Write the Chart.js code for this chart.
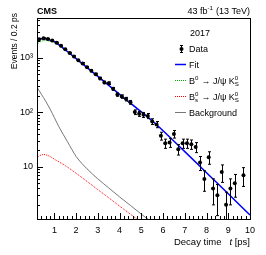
<!DOCTYPE html>
<html>
<head>
<meta charset="utf-8">
<script src="https://cdn.jsdelivr.net/npm/chart.js@4"></script>
<style>
  html, body { margin: 0; padding: 0; background: #fff; }
  #wrap { width: 266px; height: 255px; }
</style>
</head>
<body>
<div id="wrap"><canvas id="decay"></canvas></div>
<script>
// measured decay time bins (0.2 ps wide), bin centres in ps
const binCenters = [0.3, 0.5, 0.7, 0.9, 1.1, 1.3, 1.5, 1.7, 1.9, 2.1, 2.3, 2.5, 2.7, 2.9, 3.1, 3.3, 3.5,
  3.7, 3.9, 4.1, 4.3, 4.5, 4.7, 4.9, 5.1, 5.3, 5.5, 5.7, 5.9, 6.1, 6.3, 6.5, 6.7, 6.9, 7.1, 7.3, 7.5,
  7.7, 7.9, 8.1, 8.3, 8.5, 8.7, 8.9, 9.1, 9.3, 9.5, 9.7, 9.9];
const events = [2210, 2290, 2230, 2080, 1900, 1670, 1440, 1230, 1060, 905, 790, 670, 580, 500, 420, 355, 343,
  270, 212, 195, 175, 153, 101, 94, 90, 86, 68, 60, 37, 27, 28, 40, 21, 27, 27, 26, 23,
  12, 6, 15, 4, 3, 8, 2, 4, 5, null, 7, null];

// fit curves
const fitTime = [0.2, 0.3, 0.4, 0.5, 0.6, 0.8, 1.0, 1.5, 2, 3, 4, 5, 5.5, 6, 7, 8, 9, 10];
const fitValues = [2030, 2180, 2250, 2260, 2230, 2120, 1990, 1410, 970, 458, 214, 102, 70, 46, 19, 7.8, 3.2, 1.3];
const b0Values = [1740, 1910, 2015, 2070, 2075, 2010, 1900, 1370, 950, 450, 211, 101, 69, 45.5, 18.8, 7.7, 3.2, 1.3];

const bsTime = [0.2, 0.3, 0.4, 0.5, 0.6, 0.8, 1.0, 1.5, 2, 2.5, 3, 3.5, 4, 4.5, 5];
const bsValues = [14.5, 15.8, 16.5, 16.8, 16.6, 15.5, 13.8, 10.5, 7.6, 5.4, 3.8, 2.7, 1.9, 1.35, 0.95];

const bkgTime = [0.2, 0.4, 0.6, 0.8, 1.0, 1.2, 1.6, 2.0, 2.5, 3.0, 3.5, 4.0, 4.5, 5.0, 5.5];
const bkgValues = [290, 215, 160, 115, 80, 55, 29, 15.5, 9.2, 6.0, 4.1, 2.8, 1.95, 1.35, 0.95];

const xTicks = [1, 2, 3, 4, 5, 6, 7, 8, 9, 10];
const yTicks = [10, 100, 1000];
const yTickLabels = { 10: "10", 100: "10\u00b2", 1000: "10\u00b3" };

const FONT = "'Liberation Sans', Arial, Helvetica, sans-serif";

const pairs = (xs, ys) => xs.map((x, i) => ({ x: x, y: ys[i] }));

// little helper for B^0_s style text
function drawParts(ctx, x, y, parts, size) {
  for (const p of parts) {
    if (typeof p === "string") {
      ctx.font = size + "px " + FONT;
      ctx.fillText(p, x, y);
      x += ctx.measureText(p).width;
    } else {
      const s = size * 0.68;
      ctx.font = s + "px " + FONT;
      let w = 0;
      if (p.sup) { ctx.fillText(p.sup, x, y - size * 0.42); w = ctx.measureText(p.sup).width; }
      if (p.sub) { ctx.fillText(p.sub, x, y + size * 0.3); w = Math.max(w, ctx.measureText(p.sub).width); }
      x += w + 0.5;
    }
  }
  return x;
}

const decor = {
  id: "decor",
  afterDatasetsDraw(chart) {
    const { ctx, chartArea: a, scales: { x, y } } = chart;
    // error bars
    ctx.save();
    ctx.beginPath();
    ctx.rect(a.left, a.top, a.right - a.left, a.bottom - a.top);
    ctx.clip();
    ctx.strokeStyle = "#000";
    ctx.lineWidth = 1;
    binCenters.forEach((t, i) => {
      const n = events[i];
      if (n == null) return;
      const err = Math.sqrt(n);
      const px = Math.round(x.getPixelForValue(t)) + 0.5;
      const lo = n - err > 0 ? y.getPixelForValue(n - err) : a.bottom + 5;
      const hi = y.getPixelForValue(n + err);
      ctx.beginPath();
      ctx.moveTo(px, lo); ctx.lineTo(px, hi);
      ctx.moveTo(px - 1.5, lo); ctx.lineTo(px + 1.5, lo);
      ctx.moveTo(px - 1.5, hi); ctx.lineTo(px + 1.5, hi);
      ctx.stroke();
    });
    ctx.restore();
  },
  afterDraw(chart) {
    const { ctx, chartArea: a, scales: { x, y } } = chart;
    ctx.save();
    ctx.strokeStyle = "#000";
    ctx.lineWidth = 1;
    // frame
    ctx.strokeRect(Math.round(a.left) + 0.5, Math.round(a.top) + 0.5,
      Math.round(a.right - a.left), Math.round(a.bottom - a.top));
    // ticks on x
    ctx.beginPath();
    for (let k = 1; k <= 50; k++) {
      const t = 0.2 * k;
      if (t > 10.001) continue;
      const major = Math.abs(t - Math.round(t)) < 0.01;
      const px = Math.round(x.getPixelForValue(t)) + 0.5;
      ctx.moveTo(px, a.bottom);
      ctx.lineTo(px, a.bottom - (major ? 6 : 3));
    }
    // ticks on y (log)
    for (const d of [1, 10, 100, 1000]) {
      for (let k = 1; k <= 9; k++) {
        const v = k * d;
        if (v < y.min || v > y.max) continue;
        const py = Math.round(y.getPixelForValue(v)) + 0.5;
        ctx.moveTo(a.left, py);
        ctx.lineTo(a.left + (k === 1 ? 6 : 3), py);
      }
    }
    ctx.stroke();

    ctx.fillStyle = "#000";
    ctx.textBaseline = "alphabetic";
    ctx.textAlign = "left";
    // header texts
    ctx.font = "bold 9px " + FONT;
    ctx.fillText("CMS", a.left, 14);
    ctx.font = "9px " + FONT;
    const w1 = ctx.measureText("43 fb").width;
    const w3 = ctx.measureText(" (13 TeV)").width;
    ctx.font = (9 * 0.68) + "px " + FONT;
    const w2 = ctx.measureText("-1").width + 0.5;
    drawParts(ctx, a.right - (w1 + w2 + w3), 14, ["43 fb", { sup: "-1" }, " (13 TeV)"], 9);

    // x axis title
    ctx.font = "9.5px " + FONT;
    const wa = ctx.measureText("Decay time   ").width;
    const wc = ctx.measureText(" [ps]").width;
    ctx.font = "italic 9.5px " + FONT;
    const wb = ctx.measureText("t").width;
    const tx = a.right - (wa + wb + wc);
    ctx.font = "9.5px " + FONT;
    ctx.fillText("Decay time   ", tx, 245);
    ctx.font = "italic 9.5px " + FONT;
    ctx.fillText("t", tx + wa, 245);
    ctx.font = "9.5px " + FONT;
    ctx.fillText(" [ps]", tx + wa + wb, 245);

    // y axis title
    ctx.save();
    ctx.translate(17, 13);
    ctx.rotate(-Math.PI / 2);
    ctx.textAlign = "right";
    ctx.font = "8.5px " + FONT;
    ctx.fillText("Events / 0.2 ps", 0, 0);
    ctx.restore();

    // legend
    const lx = 189, sx0 = 175, sx1 = 186;
    ctx.textAlign = "left";
    ctx.font = "9px " + FONT;
    ctx.fillText("2017", lx + 1, 36);
    // data
    ctx.beginPath();
    ctx.moveTo(181.5, 45); ctx.lineTo(181.5, 53);
    ctx.moveTo(180, 45.5); ctx.lineTo(183, 45.5);
    ctx.moveTo(180, 52.5); ctx.lineTo(183, 52.5);
    ctx.stroke();
    ctx.beginPath();
    ctx.arc(181.5, 49, 2, 0, Math.PI * 2);
    ctx.fill();
    ctx.fillText("Data", lx, 52);
    // fit
    ctx.strokeStyle = "#0000ff";
    ctx.lineWidth = 1.5;
    ctx.beginPath(); ctx.moveTo(sx0, 64.5); ctx.lineTo(sx1, 64.5); ctx.stroke();
    ctx.fillText("Fit", lx, 67.5);
    // B0 and Bs
    ctx.lineWidth = 1;
    ctx.setLineDash([1, 1]);
    ctx.strokeStyle = "#00b000";
    ctx.beginPath(); ctx.moveTo(sx0, 80.5); ctx.lineTo(sx1, 80.5); ctx.stroke();
    ctx.strokeStyle = "#ff0000";
    ctx.beginPath(); ctx.moveTo(sx0, 96.5); ctx.lineTo(sx1, 96.5); ctx.stroke();
    ctx.setLineDash([]);
    drawParts(ctx, lx, 83.5, ["B", { sup: "0" }, " \u2192 J/\u03c8 K", { sup: "0", sub: "S" }], 9);
    drawParts(ctx, lx, 99.5, ["B", { sup: "0", sub: "s" }, " \u2192 J/\u03c8 K", { sup: "0", sub: "S" }], 9);
    // background
    ctx.strokeStyle = "#777";
    ctx.beginPath(); ctx.moveTo(sx0, 112.5); ctx.lineTo(sx1, 112.5); ctx.stroke();
    ctx.font = "9px " + FONT;
    ctx.fillText("Background", lx, 115.5);
    ctx.restore();
  }
};

new Chart(document.getElementById("decay").getContext("2d"), {
  type: "scatter",
  data: {
    datasets: [
      {
        label: "Data",
        data: pairs(binCenters, events).filter((p) => p.y != null),
        pointRadius: 2,
        pointBackgroundColor: "#000",
        pointBorderWidth: 0,
        showLine: false,
        order: 0,
      },
      {
        label: "Fit",
        data: pairs(fitTime, fitValues),
        showLine: true,
        borderColor: "#0000ff",
        borderWidth: 1.5,
        pointRadius: 0,
        cubicInterpolationMode: "monotone",
        order: 1,
      },
      {
        label: "B0",
        data: pairs(fitTime, b0Values),
        showLine: true,
        borderColor: "#00b000",
        borderWidth: 1,
        borderDash: [1, 1],
        pointRadius: 0,
        cubicInterpolationMode: "monotone",
        order: 2,
      },
      {
        label: "Bs",
        data: pairs(bsTime, bsValues),
        showLine: true,
        borderColor: "#ff0000",
        borderWidth: 1,
        borderDash: [1, 1],
        pointRadius: 0,
        cubicInterpolationMode: "monotone",
        order: 3,
      },
      {
        label: "Background",
        data: pairs(bkgTime, bkgValues),
        showLine: true,
        borderColor: "#777",
        borderWidth: 1,
        pointRadius: 0,
        cubicInterpolationMode: "monotone",
        order: 4,
      },
    ],
  },
  options: {
    responsive: true,
    maintainAspectRatio: false,
    devicePixelRatio: 1,
    animation: false,
    layout: { padding: { top: 18, right: 16, left: 0, bottom: 0 } },
    plugins: { legend: { display: false }, tooltip: { enabled: false } },
    scales: {
      x: {
        type: "linear",
        min: 0.2,
        max: 10,
        grid: { display: false, drawTicks: false },
        border: { display: false },
        afterBuildTicks: (s) => { s.ticks = xTicks.map((v) => ({ value: v })); },
        afterFit: (s) => { s.height = 36; },
        ticks: { color: "#000", font: { family: FONT, size: 9 }, padding: 6, maxRotation: 0, autoSkip: false },
      },
      y: {
        type: "logarithmic",
        min: 1.1,
        max: 5400,
        grid: { display: false, drawTicks: false },
        border: { display: false },
        afterBuildTicks: (s) => { s.ticks = yTicks.map((v) => ({ value: v })); },
        afterFit: (s) => { s.width = 37; },
        ticks: {
          color: "#000",
          font: { family: FONT, size: 9 },
          padding: 4,
          autoSkip: false,
          callback: (v) => yTickLabels[v] || "",
        },
      },
    },
  },
  plugins: [decor],
});
</script>
</body>
</html>
